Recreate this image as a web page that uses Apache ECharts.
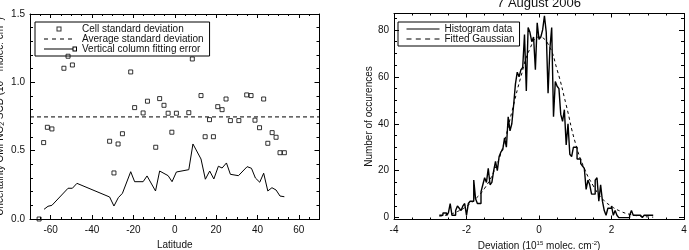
<!DOCTYPE html>
<html>
<head>
<meta charset="utf-8">
<script src="https://cdn.jsdelivr.net/npm/echarts@6/dist/echarts.min.js"></script>
<style>
  html, body { margin: 0; padding: 0; background: #fff; }
  #chart { width: 689px; height: 250px; }
</style>
</head>
<body>
<div id="chart"></div>
<script>
// left panel: uncertainty vs latitude
let latCell = [-65.6, -63.4, -61.6, -59.4, -53.6, -51.6, -49.5, -31.5, -29.4, -27.4, -25.3, -21.3, -19.4, -15.3,
    -13.2, -9.2, -7.3, -5.2, -3.2, -1.4, 0.8, 6.8, 8.5, 12.7, 14.7, 16.8, 18.7, 20.8, 22.9, 24.8, 26.9, 31.0,
    34.8, 36.9, 38.8, 41.0, 43.0, 45.0, 47.1, 49.0, 50.9, 53.0];
let cellStd = [0.0, 0.559, 0.671, 0.659, 1.103, 1.191, 1.127, 0.569, 0.337, 0.549, 0.624, 1.076, 0.815, 0.776,
    0.862, 0.525, 0.881, 0.832, 0.774, 0.635, 0.774, 0.778, 1.171, 0.903, 0.602, 0.727, 0.602, 0.822, 0.800, 0.878,
    0.720, 0.720, 0.908, 0.903, 0.723, 0.668, 0.878, 0.554, 0.632, 0.598, 0.485, 0.485];
let avgStd = 0.747;
let latFit = [-63.2, -61.3, -59.4, -51.6, -49.5, -47.3, -31.5, -29.4, -27.3, -25.3, -21.3, -19.4, -15.3, -13.4,
    -9.3, -7.3, -3.2, -1.3, 0.8, 6.8, 8.8, 12.7, 14.8, 16.9, 18.9, 21.1, 22.9, 25.0, 26.9, 30.8, 35.0, 37.1, 39.0,
    41.1, 43.0, 45.0, 47.0, 49.0, 50.9, 53.0];
let fitErr = [0.071, 0.093, 0.100, 0.225, 0.225, 0.261, 0.161, 0.095, 0.156, 0.188, 0.346, 0.273, 0.273, 0.315,
    0.205, 0.351, 0.317, 0.273, 0.344, 0.361, 0.549, 0.439, 0.291, 0.351, 0.293, 0.386, 0.373, 0.410, 0.327,
    0.317, 0.383, 0.371, 0.300, 0.269, 0.335, 0.205, 0.229, 0.212, 0.168, 0.163];

let latRange = [-70, 70];
let latMajor = [-60, -40, -20, 0, 20, 40, 60];
let latMinor = [-70, -65, -55, -50, -45, -35, -30, -25, -15, -10, -5, 5, 10, 15, 25, 30, 35, 45, 50, 55, 65, 70];
let uncRange = [0, 1.5];
let uncMajor = [0, 0.5, 1.0, 1.5];
let uncMinor = [0.1, 0.2, 0.3, 0.4, 0.6, 0.7, 0.8, 0.9, 1.1, 1.2, 1.3, 1.4];

// right panel: histogram of deviations, 7 August 2006
let histStart = -2.75;
let histBin = 0.05;
let histCounts = [
    1, 1, 2, 2, 1, 2, 6, 1, 1, 3,
    5, 4, 3, 5, 6, 1, 6, 7, 7, 16,
    8, 6, 6, 11, 14, 17, 15, 21, 14, 15,
    20, 24, 20, 26, 28, 29, 34, 30, 43, 37,
    40, 48, 57, 62, 60, 63, 64, 78, 54, 81,
    79, 75, 77, 63, 83, 76, 77, 80, 86, 79,
    53, 72, 81, 43, 58, 56, 55, 44, 41, 46,
    31, 40, 27, 26, 30, 30, 25, 25, 23, 22,
    21, 12, 16, 14, 10, 10, 16, 17, 7, 14,
    7, 3, 1, 4, 4, 5, 1, 3, 1, 0,
    0, 0, 0, 0, 0, 1, 3, 1, 1, 1,
    1, 1, 0, 1, 1, 1, 1, 1
];
let gaussX = [-2.75, -2.5, -2.25, -2, -1.75, -1.5, -1.25, -1, -0.75, -0.5, -0.25, 0, 0.25, 0.5, 0.75, 1, 1.25,
    1.5, 1.75, 2, 2.25, 2.5, 2.75, 3, 3.15];
let gaussY = [0.6, 1.3, 2.6, 4.8, 8, 12.5, 19.5, 30, 45, 60, 72, 77, 74, 63, 48, 32, 21, 13.5, 8, 4.8, 2.7,
    1.4, 0.7, 0.3, 0.2];

let devRange = [-4, 4];
let devMajor = [-4, -2, 0, 2, 4];
let devMinor = [-3.5, -3, -2.5, -1.5, -1, -0.5, 0.5, 1, 1.5, 2.5, 3, 3.5];
let occRange = [-0.8, 87];
let occMajor = [0, 20, 40, 60, 80];
let occMinor = [5, 10, 15, 25, 30, 35, 45, 50, 55, 65, 70, 75, 85];

let FONT = 'Liberation Sans';
let INK = '#111';

// IDL style box: main axis + minor tick axis on both sides
function frameAxes(dim, grid, range, majors, minors, majLen, minLen, main) {
    let sides = dim === 'x' ? ['bottom', 'top'] : ['left', 'right'];
    let out = [];
    sides.forEach((pos, k) => {
        out.push(Object.assign({
            type: 'value', gridIndex: grid, position: pos, min: range[0], max: range[1],
            axisLine: { show: true, onZero: false, lineStyle: { color: '#000', width: 1 } },
            axisTick: { show: true, inside: true, length: majLen, customValues: majors, lineStyle: { color: '#000' } },
            axisLabel: { show: false },
            splitLine: { show: false }
        }, k === 0 ? main : {}));
        out.push({
            type: 'value', gridIndex: grid, position: pos, min: range[0], max: range[1],
            axisLine: { show: false, onZero: false },
            axisTick: { show: true, inside: true, length: minLen, customValues: minors, lineStyle: { color: '#000' } },
            axisLabel: { show: false },
            splitLine: { show: false }
        });
    });
    return out;
}

let labelStyle = function (values, fmt, margin) {
    return { show: true, customValues: values, formatter: fmt, fontSize: 10, color: INK, fontFamily: FONT, margin: margin };
};

let richName = {
    t: { fontSize: 10, fontFamily: FONT, color: INK },
    sub: { fontSize: 7, fontFamily: FONT, color: INK, padding: [4, 0, 0, 0] },
    sup: { fontSize: 6, fontFamily: FONT, color: INK, padding: [0, 0, 5, 0] }
};

// legend icons (33 x 8 boxes, corner dots fix the scale)
let box = 'M0,0L0.01,0L0,0.01Z M33,8L32.99,8L33,7.99Z ';
let iconSquare = 'path://' + box + 'M12.5,1.5H17.5V6.5H12.5Z M13.5,2.5V5.5H16.5V2.5Z';
let iconDashL = 'path://' + box + 'M0,3.5H4V4.5H0Z M8,3.5H12V4.5H8Z M16,3.5H20V4.5H16Z M24,3.5H28V4.5H24Z';
let iconLineSq = 'path://' + box + 'M0,3.5H29V4.5H0Z M28.5,1.5H33V6.5H28.5Z M29.5,2.5V5.5H32V2.5Z';
let iconLine = 'path://' + box + 'M0,3.5H33V4.5H0Z';
let iconDashR = 'path://' + box + 'M0,3.5H5V4.5H0Z M9.3,3.5H14.3V4.5H9.3Z M18.6,3.5H23.6V4.5H18.6Z M28,3.5H33V4.5H28Z';

let legendItem = function (name, icon) {
    return { name: name, icon: icon, itemStyle: { color: '#000', borderWidth: 0 } };
};

let legendBase = {
    orient: 'vertical', itemWidth: 33, itemHeight: 8, itemGap: 0,
    borderColor: '#000', borderWidth: 1, borderRadius: 0, selectedMode: false,
    textStyle: { fontSize: 10, lineHeight: 8.5, color: INK, fontFamily: FONT }
};

let zip = function (a, b) {
    return a.map((v, i) => [v, b[i]]);
};

let histData = histCounts.map((c, i) => [histStart + i * histBin, c]);
histData.push([histStart + histCounts.length * histBin, histCounts[histCounts.length - 1]]);

let option = {
    animation: false,
    backgroundColor: '#fff',
    textStyle: { fontFamily: FONT, color: INK },
    title: {
        text: '7 August 2006', left: 539, top: -3, textAlign: 'center', padding: 0,
        textStyle: { fontSize: 13, fontWeight: 'normal', color: INK, fontFamily: FONT }
    },
    grid: [
        { left: 30, top: 14, width: 289.5, height: 205, outerBoundsMode: 'none', containLabel: false },
        { left: 394, top: 13.5, width: 290, height: 206, outerBoundsMode: 'none', containLabel: false }
    ],
    legend: [
        Object.assign({}, legendBase, {
            left: 35, top: 22, padding: [2, 6, 2, 9],
            data: [
                legendItem('Cell standard deviation', iconSquare),
                legendItem('Average standard deviation', iconDashL),
                legendItem('Vertical column fitting error', iconLineSq)
            ]
        }),
        Object.assign({}, legendBase, {
            left: 398, top: 22, padding: [2, 5, 2, 8.5],
            data: [
                legendItem('Histogram data', iconLine),
                legendItem('Fitted Gaussian', iconDashR)
            ]
        })
    ],
    xAxis: [].concat(
        frameAxes('x', 0, latRange, latMajor, latMinor, 4, 2, {
            axisLabel: labelStyle(latMajor, v => String(v), 6),
            name: 'Latitude', nameLocation: 'middle', nameGap: 10,
            nameTextStyle: { fontSize: 10, color: INK, fontFamily: FONT }
        }),
        frameAxes('x', 1, devRange, devMajor, devMinor, 4, 2, {
            axisLabel: labelStyle(devMajor, v => String(v), 6),
            name: '{t|Deviation (10}{sup|15}{t| molec. cm}{sup|-2}{t|)}', nameLocation: 'middle', nameGap: 10,
            nameTextStyle: { rich: richName }
        })
    ),
    yAxis: [].concat(
        frameAxes('y', 0, uncRange, uncMajor, uncMinor, 5, 3, {
            axisLabel: labelStyle(uncMajor, v => v.toFixed(1), 5),
            name: '{t|Uncertainty OMI NO}{sub|2}{t| SCD (10}{sup|15}{t| molec. cm}{sup|-2}{t|)}',
            nameLocation: 'middle', nameGap: 24,
            nameTextStyle: { rich: richName }
        }),
        frameAxes('y', 1, occRange, occMajor, occMinor, 5, 3, {
            axisLabel: labelStyle(occMajor, v => String(v), 5),
            name: 'Number of occurences', nameLocation: 'middle', nameGap: 20,
            nameTextStyle: { fontSize: 10, color: INK, fontFamily: FONT }
        })
    ),
    series: [
        {
            name: 'Cell standard deviation', type: 'scatter', xAxisIndex: 0, yAxisIndex: 0,
            symbol: 'rect', symbolSize: 4,
            itemStyle: { color: 'transparent', borderColor: '#000', borderWidth: 1 },
            data: zip(latCell, cellStd)
        },
        {
            name: 'Average standard deviation', type: 'line', xAxisIndex: 0, yAxisIndex: 0,
            showSymbol: false, lineStyle: { color: '#000', width: 1, type: [4, 3] },
            itemStyle: { color: '#000' },
            data: [[latRange[0], avgStd], [latRange[1], avgStd]]
        },
        {
            name: 'Vertical column fitting error', type: 'line', xAxisIndex: 0, yAxisIndex: 0,
            showSymbol: false, lineStyle: { color: '#000', width: 1 },
            itemStyle: { color: '#000' },
            data: zip(latFit, fitErr)
        },
        {
            name: 'Histogram data', type: 'line', xAxisIndex: 4, yAxisIndex: 4,
            step: 'end', showSymbol: false, lineStyle: { color: '#000', width: 1.4 },
            itemStyle: { color: '#000' },
            data: histData
        },
        {
            name: 'Fitted Gaussian', type: 'line', xAxisIndex: 4, yAxisIndex: 4,
            smooth: true, showSymbol: false, lineStyle: { color: '#000', width: 1, type: [3, 3] },
            itemStyle: { color: '#000' },
            data: zip(gaussX, gaussY)
        }
    ]
};

let chart = echarts.init(document.getElementById('chart'));
chart.setOption(option);
</script>
</body>
</html>
